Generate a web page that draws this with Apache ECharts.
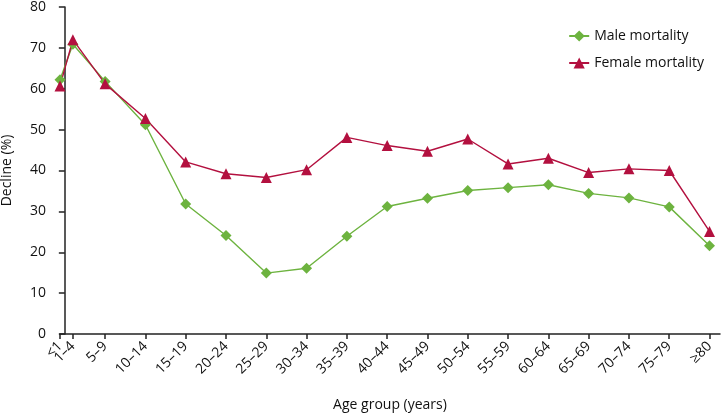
<!DOCTYPE html>
<html><head><meta charset="utf-8">
<script src="https://cdn.jsdelivr.net/npm/echarts@6/dist/echarts.min.js"></script>
<style>html,body{margin:0;padding:0;background:#fff}#c{width:722px;height:415px}</style>
</head><body><div id="c"></div>
<script>
const categories = ['<1','1–4','5–9','10–14','15–19','20–24','25–29','30–34','35–39','40–44','45–49','50–54','55–59','60–64','65–69','70–74','75–79','≥80'];
// age position of each group on the x scale (years)
const ageX = [-0.6, 1, 5, 10, 15, 20, 25, 30, 35, 40, 45, 50, 55, 60, 65, 70, 75, 80];
const male = [62.2, 70.9, 61.8, 51.2, 31.8, 24.1, 14.9, 16.1, 23.9, 31.2, 33.2, 35.1, 35.8, 36.5, 34.4, 33.3, 31.1, 21.6];
const female = [60.7, 72.0, 61.2, 52.7, 42.1, 39.2, 38.3, 40.2, 48.1, 46.1, 44.7, 47.7, 41.6, 43.0, 39.5, 40.4, 40.0, 25.1];
const yTicks = [0, 10, 20, 30, 40, 50, 60, 70, 80];

const font = 'Open Sans';
const green = '#6db33f', red = '#b3103f';
const chart = echarts.init(document.getElementById('c'), null, {renderer: 'canvas'});
const pairs = arr => ageX.map((x, i) => [x, arr[i]]);
const labelFor = v => { const i = ageX.findIndex(a => Math.abs(a - v) < 1e-6); return i >= 0 ? categories[i] : ''; };
const mainLabelVals = ageX.filter((_, i) => i !== 1);
const xMin = ageX[0], xMax = 81.3;
const baseLabel = {rotate: 45, fontSize: 14, color: '#111', margin: 10, formatter: labelFor,
                   showMinLabel: true, showMaxLabel: true, hideOverlap: false};
chart.setOption({
  animation: false,
  textStyle: {fontFamily: font},
  grid: {left: 60, right: 2, top: 7, bottom: 81, containLabel: false, outerBoundsMode: 'none'},
  legend: {
    right: 13, top: 24, orient: 'vertical', itemGap: 13, itemWidth: 20, itemHeight: 14,
    textStyle: {fontFamily: font, fontSize: 14, color: '#111'},
    data: ['Male mortality', 'Female mortality']
  },
  xAxis: [{
    type: 'value', min: xMin, max: xMax,
    name: 'Age group (years)', nameLocation: 'middle', nameGap: 64,
    nameTextStyle: {fontFamily: font, fontSize: 14, color: '#111'},
    axisLine: {show: true, lineStyle: {color: '#222', width: 1.5}},
    axisTick: {show: true, length: 5, customValues: ageX, lineStyle: {color: '#222', width: 1.5}},
    splitLine: {show: false},
    axisLabel: Object.assign({customValues: mainLabelVals}, baseLabel)
  }, {
    type: 'value', min: xMin, max: xMax, position: 'bottom', offset: 0,
    axisLine: {show: false}, axisTick: {show: false}, splitLine: {show: false},
    axisLabel: Object.assign({}, baseLabel, {customValues: [ageX[1]], showMinLabel: false})
  }],
  yAxis: {
    type: 'value', min: 0, max: 80, interval: 10,
    name: 'Decline (%)', nameLocation: 'middle', nameGap: 46,
    nameTextStyle: {fontFamily: font, fontSize: 14, color: '#111'},
    axisLine: {show: true, lineStyle: {color: '#222', width: 1.5}},
    axisTick: {show: true, length: 6, lineStyle: {color: '#222', width: 1.5}},
    splitLine: {show: false},
    axisLabel: {fontSize: 14, color: '#111', margin: 14}
  },
  series: [
    {name: 'Male mortality', type: 'line', data: pairs(male), symbol: 'diamond', symbolSize: 11,
     itemStyle: {color: green}, lineStyle: {color: green, width: 1.4}},
    {name: 'Female mortality', type: 'line', data: pairs(female), symbol: 'triangle', symbolSize: 11,
     itemStyle: {color: red}, lineStyle: {color: red, width: 1.4}}
  ]
});
</script></body></html>
